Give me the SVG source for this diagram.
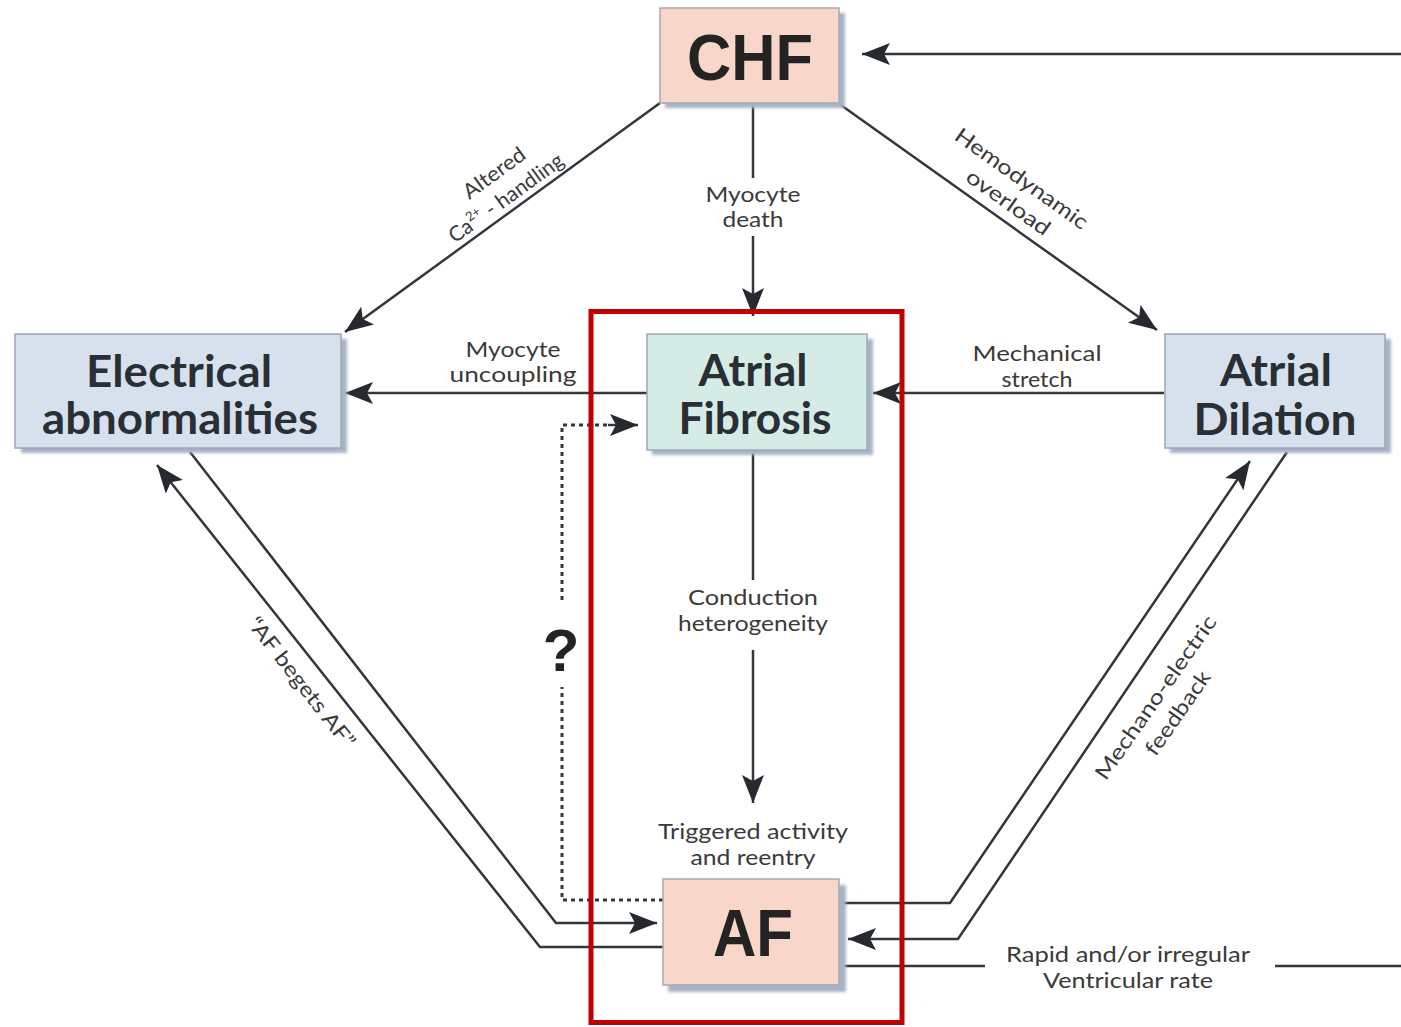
<svg xmlns="http://www.w3.org/2000/svg" width="1401" height="1027" viewBox="0 0 1401 1027">
<defs>
<marker id="ah" markerUnits="userSpaceOnUse" markerWidth="30" markerHeight="22" refX="28" refY="11" orient="auto">
<path d="M0,0 L28,11 L0,22 L6,11 Z" fill="#262a2e"/>
</marker>
<filter id="sh" x="-10%" y="-10%" width="130%" height="130%">
<feGaussianBlur stdDeviation="1.5"/>
</filter>
<style>
.ln{fill:none;stroke:#33363a;stroke-width:2.5}
.dt{fill:none;stroke:#33363a;stroke-width:3;stroke-dasharray:4 4}
.shadow{fill:#a7b4c6;filter:url(#sh)}
.peach{fill:#f8d7ca;stroke:#a9a9ad;stroke-width:1.5}
.blue{fill:#d7e1ed;stroke:#9aa7b8;stroke-width:1.5}
.teal{fill:#d5ebe6;stroke:#9aaab0;stroke-width:1.5}
.big{font-family:"Liberation Sans",Arial,sans-serif;font-weight:bold;fill:#232323;text-anchor:middle}
.nt{font-family:Lato,"Open Sans",sans-serif;font-weight:bold;fill:#2a2f35;text-anchor:middle;font-size:44px}
.lb{font-family:Lato,"Open Sans",sans-serif;fill:#3a3a3a;text-anchor:middle;font-size:21px}
</style>
</defs>
<rect width="1401" height="1027" fill="#ffffff"/>

<g id="connectors">
<path class="ln" d="M1401,54 L862,54" marker-end="url(#ah)"/>
<path class="ln" d="M660,103 L345,332" marker-end="url(#ah)"/>
<path class="ln" d="M753,103 L753,178"/>
<path class="ln" d="M753,236 L753,316" marker-end="url(#ah)"/>
<path class="ln" d="M838,103 L1157,330" marker-end="url(#ah)"/>
<path class="ln" d="M647,393 L345,393" marker-end="url(#ah)"/>
<path class="ln" d="M1164,393 L873,393" marker-end="url(#ah)"/>
<path class="ln" d="M753,450 L753,580"/>
<path class="ln" d="M753,650 L753,803" marker-end="url(#ah)"/>
<path class="ln" d="M190,452 L556,923 L657,923" marker-end="url(#ah)"/>
<path class="ln" d="M663,947 L540,947 L157,465" marker-end="url(#ah)"/>
<path class="ln" d="M838,903 L950,903 L1250,461" marker-end="url(#ah)"/>
<path class="ln" d="M1287,452 L958,939 L848,939" marker-end="url(#ah)"/>
<path class="ln" d="M838,966 L985,966"/>
<path class="ln" d="M1275,966 L1401,966"/>
<path class="dt" d="M663,900 L562,900 L562,687"/>
<path class="dt" d="M562,600 L562,425 L610,425"/>
<path class="ln" d="M608,425 L638,425" marker-end="url(#ah)"/>
</g>

<g id="labels">
<text class="lb" x="753" y="202" textLength="95" lengthAdjust="spacingAndGlyphs">Myocyte</text>
<text class="lb" x="753" y="227" textLength="61" lengthAdjust="spacingAndGlyphs">death</text>
<text class="lb" x="513" y="357" textLength="95" lengthAdjust="spacingAndGlyphs">Myocyte</text>
<text class="lb" x="513" y="382" textLength="127" lengthAdjust="spacingAndGlyphs">uncoupling</text>
<text class="lb" x="1037" y="361" textLength="129" lengthAdjust="spacingAndGlyphs">Mechanical</text>
<text class="lb" x="1037" y="387" textLength="71" lengthAdjust="spacingAndGlyphs">stretch</text>
<text class="lb" x="753" y="605" textLength="130" lengthAdjust="spacingAndGlyphs">Conduction</text>
<text class="lb" x="753" y="631" textLength="150" lengthAdjust="spacingAndGlyphs">heterogeneity</text>
<text class="lb" x="753" y="839" textLength="190" lengthAdjust="spacingAndGlyphs">Triggered activity</text>
<text class="lb" x="753" y="865" textLength="125" lengthAdjust="spacingAndGlyphs">and reentry</text>
<text class="lb" x="1128" y="962" textLength="244" lengthAdjust="spacingAndGlyphs">Rapid and/or irregular</text>
<text class="lb" x="1128" y="988" textLength="170" lengthAdjust="spacingAndGlyphs">Ventricular rate</text>
<g transform="translate(506,198) rotate(-36)">
<text class="lb" x="5" y="-20" textLength="72" lengthAdjust="spacingAndGlyphs">Altered</text>
<text class="lb" x="0" y="7">Ca<tspan font-size="13" dy="-9">2+</tspan><tspan dy="9"> - handling</tspan></text>
</g>
<g transform="translate(1022,178) rotate(35.4)">
<text class="lb" x="0" y="8" textLength="158" lengthAdjust="spacingAndGlyphs">Hemodynamic</text>
<text class="lb" x="3" y="35" textLength="98" lengthAdjust="spacingAndGlyphs">overload</text>
</g>
<g transform="translate(302,682) rotate(52)">
<text class="lb" x="0" y="8" textLength="160" lengthAdjust="spacingAndGlyphs">“AF begets AF”</text>
</g>
<g transform="translate(1155,697) rotate(-55)">
<text class="lb" x="0" y="8" textLength="195" lengthAdjust="spacingAndGlyphs">Mechano-electric</text>
<text class="lb" x="0" y="35" textLength="98" lengthAdjust="spacingAndGlyphs">feedback</text>
</g>
<text class="big" x="561" y="671" font-size="60">?</text>
</g>

<g id="node-chf">
<rect class="shadow" x="665" y="13" width="180" height="95"/>
<rect class="peach" x="660" y="8" width="179" height="95"/>
<text class="big" x="750" y="80" font-size="64" textLength="126" lengthAdjust="spacingAndGlyphs">CHF</text>
</g>

<g id="node-electrical">
<rect class="shadow" x="21" y="339" width="326" height="114"/>
<rect class="blue" x="15" y="334" width="326" height="114"/>
<text class="nt" x="179" y="387" textLength="186" lengthAdjust="spacingAndGlyphs">Electrical</text>
<text class="nt" x="180" y="434" textLength="276" lengthAdjust="spacingAndGlyphs">abnormalities</text>
</g>

<g id="node-fibrosis">
<rect class="shadow" x="652" y="339" width="221" height="116"/>
<rect class="teal" x="647" y="334" width="220" height="116"/>
<text class="nt" x="753" y="386" textLength="109" lengthAdjust="spacingAndGlyphs">Atrial</text>
<text class="nt" x="755" y="434" textLength="153" lengthAdjust="spacingAndGlyphs">Fibrosis</text>
</g>

<g id="node-dilation">
<rect class="shadow" x="1170" y="339" width="221" height="114"/>
<rect class="blue" x="1165" y="334" width="220" height="114"/>
<text class="nt" x="1276" y="386" textLength="112" lengthAdjust="spacingAndGlyphs">Atrial</text>
<text class="nt" x="1275" y="435" textLength="163" lengthAdjust="spacingAndGlyphs">Dilation</text>
</g>

<g id="node-af">
<rect class="shadow" x="668" y="885" width="178" height="107"/>
<rect class="peach" x="663" y="879" width="176" height="106"/>
<text class="big" x="753" y="956" font-size="66" textLength="80" lengthAdjust="spacingAndGlyphs">AF</text>
</g>

<rect id="highlight" x="591" y="311.5" width="311" height="711" fill="none" stroke="#c00000" stroke-width="5"/>
</svg>
